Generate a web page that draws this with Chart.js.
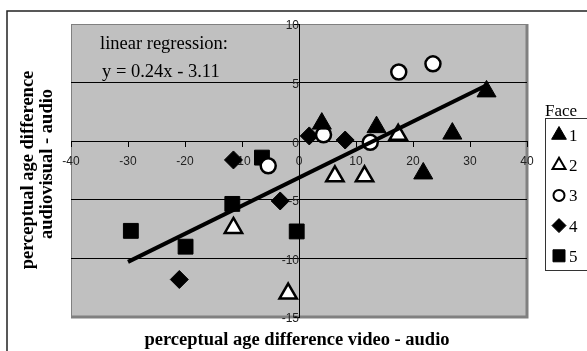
<!DOCTYPE html>
<html>
<head>
<meta charset="utf-8">
<script src="https://cdn.jsdelivr.net/npm/chart.js@4"></script>
<style>
  html, body { margin: 0; padding: 0; background: #fff; }
  #wrap { width: 587px; height: 351px; }
</style>
</head>
<body>
<div id="wrap"><canvas id="chart" width="587" height="351"></canvas></div>
<script>
// values, one pair of arrays per face
const face1X = [4, 13.6, 26.9, 32.9, 21.8];
const face1Y = [1.5, 1.2, 0.65, 4.25, -2.75];
const face2X = [17.4, 6.3, 11.5, -11.5, -1.9];
const face2Y = [0.55, -3.0, -3.0, -7.4, -13.0];
const face3X = [17.5, 23.5, 4.3, 12.5, -5.4];
const face3Y = [5.9, 6.6, 0.55, -0.1, -2.1];
const face4X = [-11.5, 1.8, 8.1, -3.3, -21.0];
const face4Y = [-1.6, 0.45, 0.1, -5.1, -11.8];
const face5X = [-6.5, -11.7, -29.5, -19.9, -0.4];
const face5Y = [-1.4, -5.35, -7.65, -9.0, -7.7];

// regression line end points
const lineX = [-30, 33];
const lineY = [-10.3, 4.8];

const faceLabels = ['1', '2', '3', '4', '5'];
const gridValues = [5, -5, -10];

const SERIF = '"Liberation Serif", "Times New Roman", serif';
const SANS = '"Liberation Sans", Arial, sans-serif';

const pts = (xs, ys) => xs.map((x, i) => ({ x: x, y: ys[i] }));

// marker styles (plot) + smaller ones for the legend
const faceStyles = [
  { pointStyle: 'triangle', fill: '#000', border: '#000', bw: 1, r: 11, lr: 8.5, lbw: 1 },
  { pointStyle: 'triangle', fill: '#fff', border: '#000', bw: 2.5, r: 10, lr: 7.5, lbw: 2 },
  { pointStyle: 'circle',   fill: '#fff', border: '#000', bw: 2.5, r: 7.5, lr: 5.5, lbw: 2 },
  { pointStyle: 'rectRot',  fill: '#000', border: '#000', bw: 1, r: 9, lr: 7, lbw: 1 },
  { pointStyle: 'rect',     fill: '#000', border: '#000', bw: 1, r: 10.5, lr: 8.5, lbw: 1 }
];
const faceData = [
  pts(face1X, face1Y), pts(face2X, face2Y), pts(face3X, face3Y),
  pts(face4X, face4Y), pts(face5X, face5Y)
];

const pointSets = faceData.map((d, i) => ({
  type: 'scatter',
  label: faceLabels[i],
  data: d,
  pointStyle: faceStyles[i].pointStyle,
  pointRadius: faceStyles[i].r,
  pointHoverRadius: faceStyles[i].r,
  pointBackgroundColor: faceStyles[i].fill,
  pointBorderColor: faceStyles[i].border,
  pointBorderWidth: faceStyles[i].bw,
  order: 1
}));

const regression = {
  type: 'line',
  label: 'regression',
  data: pts(lineX, lineY),
  borderColor: '#000',
  borderWidth: 4,
  pointRadius: 0,
  fill: false,
  order: 0
};

// plot background, frame, texts and the "Face" legend
const decor = {
  id: 'decor',
  beforeDraw(chart) {
    const { ctx, chartArea: a } = chart;
    ctx.save();
    ctx.strokeStyle = '#222';
    ctx.lineWidth = 1.5;
    ctx.strokeRect(7, 11, 700, 500);

    ctx.fillStyle = '#c0c0c0';
    ctx.fillRect(a.left, a.top, a.right - a.left, a.bottom - a.top);
    ctx.strokeStyle = '#808080';
    ctx.lineWidth = 1;
    ctx.strokeRect(a.left + 0.5, a.top + 0.5, a.right - a.left - 1, a.bottom - a.top - 1);
    ctx.lineWidth = 3;
    ctx.beginPath();
    ctx.moveTo(a.right, a.top);
    ctx.lineTo(a.right, a.bottom);
    ctx.lineTo(a.left, a.bottom);
    ctx.stroke();
    ctx.restore();
  },
  afterDraw(chart) {
    const { ctx } = chart;
    ctx.save();
    ctx.fillStyle = '#000';
    ctx.textBaseline = 'alphabetic';

    // regression note
    ctx.font = '18.5px ' + SERIF;
    ctx.textAlign = 'left';
    ctx.fillText('linear regression:', 100, 49);
    ctx.fillText('y = 0.24x - 3.11', 102, 77);

    // axis titles
    ctx.font = 'bold 18.5px ' + SERIF;
    ctx.textAlign = 'center';
    ctx.fillText('perceptual age difference video - audio', 297, 345);
    ctx.save();
    ctx.translate(33, 170);
    ctx.rotate(-Math.PI / 2);
    ctx.fillText('perceptual age difference', 0, 0);
    ctx.restore();
    ctx.save();
    ctx.translate(52, 164);
    ctx.rotate(-Math.PI / 2);
    ctx.fillText('audiovisual - audio', 0, 0);
    ctx.restore();

    // legend
    ctx.font = '17px ' + SERIF;
    ctx.textAlign = 'left';
    ctx.fillText('Face', 545, 116);
    ctx.strokeStyle = '#333';
    ctx.lineWidth = 1;
    ctx.strokeRect(545.5, 118.5, 100, 152);
    faceStyles.forEach((s, i) => {
      const y = 135 + i * 30.2;
      ctx.fillStyle = s.fill;
      ctx.strokeStyle = s.border;
      ctx.lineWidth = s.lbw;
      Chart.helpers.drawPoint(ctx, { pointStyle: s.pointStyle, radius: s.lr, borderWidth: s.lbw, rotation: 0 }, 559, y);
      ctx.fillStyle = '#000';
      ctx.fillText(faceLabels[i], 569, y + 6);
    });
    ctx.restore();
  }
};

new Chart(document.getElementById('chart'), {
  data: { datasets: [regression].concat(pointSets) },
  options: {
    responsive: false,
    animation: false,
    layout: { padding: { left: 71, right: 60, top: 24, bottom: 34 } },
    plugins: { legend: { display: false }, tooltip: { enabled: false } },
    scales: {
      x: {
        type: 'linear',
        position: { y: 0 },
        min: -40, max: 40,
        ticks: { stepSize: 10, color: '#222', font: { family: SANS, size: 12 }, padding: 8, maxRotation: 0 },
        grid: { drawOnChartArea: false, tickLength: 5, tickColor: '#000' },
        border: { display: true, color: '#000', width: 1 }
      },
      y: {
        type: 'linear',
        position: { x: 0 },
        min: -15, max: 10,
        ticks: { stepSize: 5, color: '#222', font: { family: SANS, size: 12 }, padding: 1, labelOffset: 2 },
        grid: {
          drawOnChartArea: true,
          tickLength: 5,
          tickColor: '#000',
          lineWidth: 1,
          color: (c) => gridValues.includes(c.tick && c.tick.value) ? '#000' : 'rgba(0,0,0,0)'
        },
        border: { display: true, color: '#000', width: 1 }
      }
    }
  },
  plugins: [decor]
});
</script>
</body>
</html>
